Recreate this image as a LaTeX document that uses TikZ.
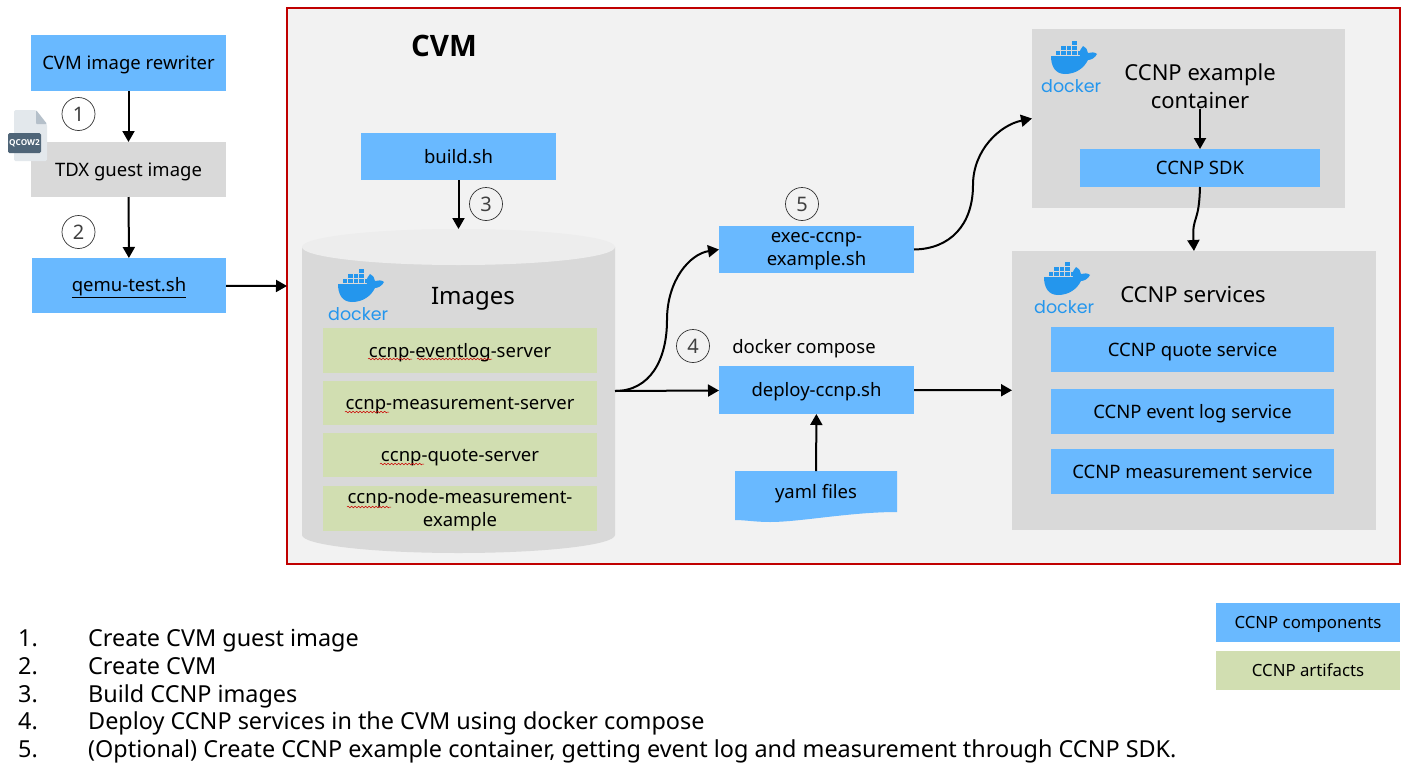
\documentclass[tikz,border=0pt]{standalone}
\usepackage{fontspec}
\setmainfont{Noto Sans}
\newfontfamily\dockerfont{Poppins}
\newfontfamily\heavyfont{Open Sans}
\usetikzlibrary{arrows.meta,decorations.pathmorphing}
\definecolor{compblue}{HTML}{69B9FF}
\definecolor{artgreen}{HTML}{D1DEB1}
\definecolor{panelgrey}{HTML}{D9D9D9}
\definecolor{cvmbg}{HTML}{F2F2F2}
\definecolor{cvmred}{HTML}{C00000}
\definecolor{dockerblue}{HTML}{2496ED}
\definecolor{qcowpage}{HTML}{E3E8EC}
\definecolor{qcowfold}{HTML}{B5C0CA}
\definecolor{qcowlabel}{HTML}{4F6578}
\newcommand{\fs}[2][1.23]{\fontsize{#2}{\fpeval{#1*#2}}\selectfont}
\newcommand{\rectnode}[7]{\node[#1,minimum width={(#5-#3)*1pt},minimum height={(#6-#4)*1pt},label={[boxtext]center:#7}] (#2) at ({(#3+#5)/2},{(#4+#6)/2}) {};}
\tikzset{
  base/.style={inner sep=0pt,outer sep=0pt},
  boxtext/.style={inner sep=0pt,outer sep=0pt,align=center,text=black,font=\fs{18.5},yshift=-2pt},
  comp/.style={base,fill=compblue},
  art/.style={base,fill=artgreen},
  grey/.style={base,fill=panelgrey},
  conn/.style={line width=2pt,-{Triangle[length=11pt,width=12pt]},black},
  stepnum/.style={circle,draw=black!80,line width=0.7pt,minimum size=33pt,inner sep=0pt,text=black!75,font=\fs{20}},
  squig/.style={red!80!black,line width=0.5pt,decorate,decoration={snake,segment length=3.5pt,amplitude=0.8pt}},
  plainlabel/.style={inner sep=0pt,font=\fs{18.5},text=black},
  listitem/.style={inner sep=0pt,anchor=base west,font=\fs{23.4},text=black},
  dockerlogo/.pic={
    \fill[dockerblue] (10,16) -- (39,16) .. controls (38,11) and (40,8) .. (42,6) .. controls (45,8) and (47,10) .. (47,13) .. controls (50,12) and (54,12) .. (56,14) .. controls (54,18) and (50,20) .. (47,20) .. controls (43,28) and (35,34) .. (24,34) .. controls (14,34) and (10,26) .. (10,16) -- cycle;
    \foreach \cx/\cy in {31/1,20/6,25.5/6,31/6,14.5/11,20/11,25.5/11,31/11,36.5/11}
      \fill[dockerblue] (\cx,\cy) rectangle ++(4.6,4.4);
    \node[inner sep=0pt,anchor=base west,text=dockerblue,font={\dockerfont\fs{17.5}}] at (0,52) {docker};
  }
}
\begin{document}
\begin{tikzpicture}[x=1pt,y=-1pt]
\useasboundingbox (0,0) rectangle (1409,763);
\fill[white] (0,0) rectangle (1409,763);
% CVM frame
\node[base,fill=cvmbg,draw=cvmred,line width=1.5pt,minimum width=1113pt,minimum height=556pt] (cvm) at (843.5,286) {};
\node[inner sep=0pt,font=\heavyfont\fs{29.5}\bfseries] (cvmlabel) at (444,46) {CVM};
% left column
\rectnode{comp}{rewriter}{31}{35}{226}{91}{\vphantom{gh}CVM image rewriter}
\rectnode{grey}{tdx}{31}{142}{226}{197}{\vphantom{gh}TDX guest image}
\rectnode{comp}{qemu}{32}{258}{226}{313}{\vphantom{gh}\underline{qemu-test.sh}}
% qcow icon
\fill[rounded corners=1.5pt,fill=qcowpage] (14,110) -- (36,110) -- (47,124) -- (47,161) -- (14,161) -- cycle;
\fill[rounded corners=1pt,fill=qcowfold] (36,110) -- (47,124) -- (36,124) -- cycle;
\node[fill=qcowlabel,rounded corners=1.5pt,minimum width=33pt,minimum height=20pt,inner sep=0pt,text=white,font=\heavyfont\fs{8.2}\bfseries] (qcow) at (24.5,143) {QCOW2};
% build
\rectnode{comp}{build}{361}{133}{556}{180}{\vphantom{gh}build.sh}
% cylinder
\node[base,minimum width=313pt,minimum height=324pt] (images) at (458.5,391) {};
\fill[panelgrey] (302,247) -- (302,535) arc[x radius=156.5,y radius=18,start angle=180,end angle=0] -- (615,247) -- cycle;
\fill[black!7!white,draw=none] (458.5,247) ellipse[x radius=156.5,y radius=18];
\pic at (328,268) {dockerlogo};
\node[plainlabel,font=\fs{24}] (imagestitle) at (473,298) {\vphantom{gh}Images};
\rectnode{art}{g1}{323}{328}{597}{373}{\vphantom{gh}ccnp-eventlog-server}
\rectnode{art}{g2}{323}{381}{597}{425}{\vphantom{gh}ccnp-measurement-server}
\rectnode{art}{g3}{323}{433}{597}{477}{\vphantom{gh}ccnp-quote-server}
\rectnode{art}{g4}{323}{486}{597}{531}{ccnp-node-measurement-\\example}
\draw[squig] (368,359) -- (412,359);
\draw[squig] (417,359) -- (492,359);
\draw[squig] (345,412) -- (389,412);
\draw[squig] (380,464) -- (424,464);
\draw[squig] (347,507) -- (391,507);
% middle
\rectnode{comp}{exec}{719}{226}{914}{273}{exec-ccnp-\\example.sh}
\rectnode{comp}{deploy}{719}{366}{914}{414}{\vphantom{gh}deploy-ccnp.sh}
\node[plainlabel,yshift=-2pt] (dc) at (804,347) {\vphantom{gh}docker compose};
\fill[compblue] (735,471) -- (897,471) -- (897,512) .. controls (850,512) and (800,522) .. (770,522) .. controls (755,522) and (745,520) .. (735,520) -- cycle;
\node[base,minimum width=162pt,minimum height=42pt,label={[boxtext]center:\vphantom{gh}yaml files}] (yaml) at (816,492) {};
% example container
\rectnode{grey}{example}{1032}{29}{1345}{208}{}
\pic at (1041,40) {dockerlogo};
\node[plainlabel,font={\fs[1.27]{22}},align=center] (extitle) at (1200,86) {CCNP example\\container};
\rectnode{comp}{sdk}{1080}{149}{1320}{187}{\vphantom{gh}CCNP SDK}
% services
\rectnode{grey}{services}{1012}{251}{1376}{530}{}
\pic at (1034,261) {dockerlogo};
\node[plainlabel,font=\fs{22}] (svctitle) at (1193,294) {CCNP services};
\rectnode{comp}{quote}{1051}{327}{1334}{372}{\vphantom{gh}CCNP quote service}
\rectnode{comp}{evlog}{1051}{389}{1334}{434}{\vphantom{gh}CCNP event log service}
\rectnode{comp}{meas}{1051}{449}{1334}{494}{\vphantom{gh}CCNP measurement service}
% step numbers
\node[stepnum] (n1) at (78.5,114) {1};
\node[stepnum] (n2) at (78.5,232) {2};
\node[stepnum] (n3) at (486,204) {3};
\node[stepnum] (n4) at (693,346) {4};
\node[stepnum] (n5) at (802,204) {5};
% connectors
\draw[conn] (rewriter) -- (tdx);
\draw[conn] (tdx) -- (qemu);
\draw[conn] (qemu) -- (cvm.west);
\draw[conn] (build) -- (images.north);
\draw[conn] (images.east) -- (deploy);
\draw[conn] (images.east) .. controls (650,391) and (667,360) .. (667,320) .. controls (667,280) and (690,254) .. (exec.west);
\draw[conn] (exec.east) .. controls (950,249) and (973,225) .. (973,185) .. controls (973,150) and (1000,125) .. (example.west);
\draw[conn] (extitle.south) -- (sdk.north);
\draw[conn] (sdk.south) .. controls (1199,225) and (1192,215) .. (services.north);
\draw[conn] (deploy) -- (services);
\draw[conn] (yaml) -- (deploy);
% legend
\node[comp,minimum width=184pt,minimum height=39pt,label={[boxtext,font=\fs{16.8}]center:\vphantom{gh}CCNP components}] (legend1) at (1308,622.5) {};
\node[art,minimum width=184pt,minimum height=39pt,label={[boxtext,font=\fs{16.8}]center:\vphantom{gh}CCNP artifacts}] (legend2) at (1308,670.5) {};
% list
\node[listitem] (l1) at (18,646) {1.};
\node[listitem] (t1) at (88,646) {Create CVM guest image};
\node[listitem] (l2) at (18,674) {2.};
\node[listitem] (t2) at (88,674) {Create CVM};
\node[listitem] (l3) at (18,702) {3.};
\node[listitem] (t3) at (88,702) {Build CCNP images};
\node[listitem] (l4) at (18,729.5) {4.};
\node[listitem] (t4) at (88,729.5) {Deploy CCNP services in the CVM using docker compose};
\node[listitem] (l5) at (18,757) {5.};
\node[listitem] (t5) at (88,757) {(Optional) Create CCNP example container, getting event log and measurement through CCNP SDK.};
\end{tikzpicture}
\end{document}
